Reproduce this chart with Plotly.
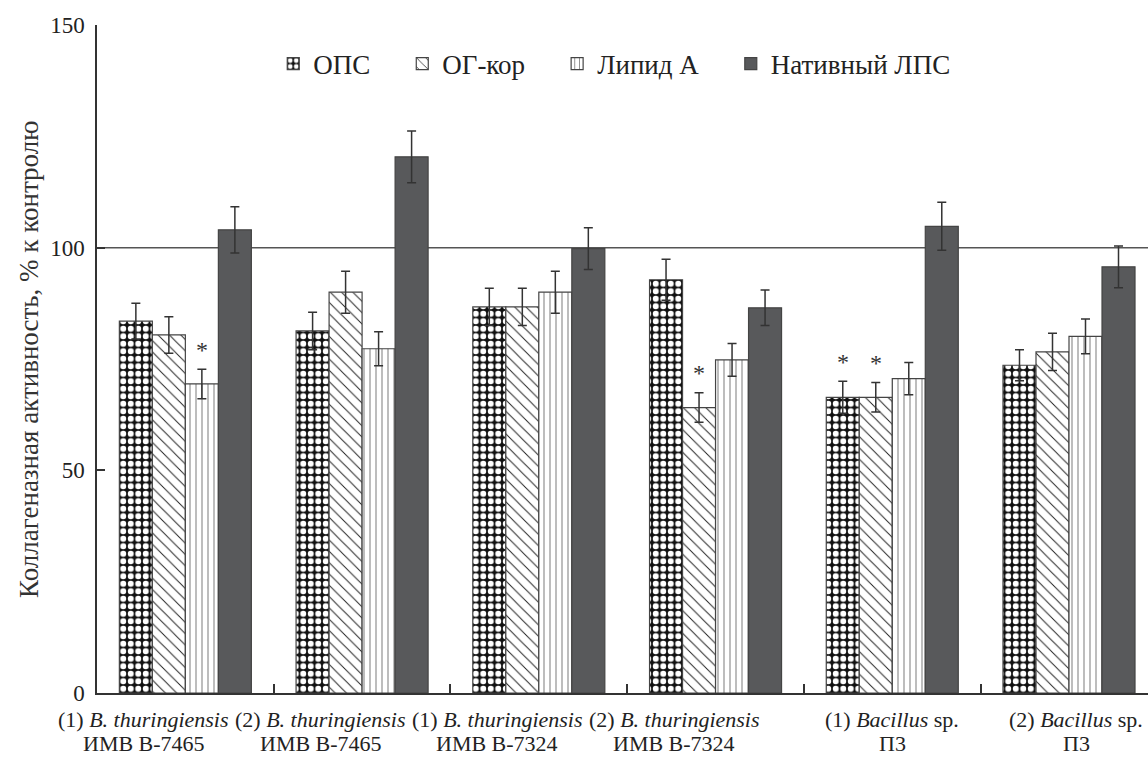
import plotly.graph_objects as go

# ---- data ----
label_line1 = ["(1) <i>B. thuringiensis</i>", "(2) <i>B. thuringiensis</i>",
               "(1) <i>B. thuringiensis</i>", "(2) <i>B. thuringiensis</i>",
               "(1) <i>Bacillus</i> sp.", "(2) <i>Bacillus</i> sp."]
label_line2 = ["ИМВ В-7465", "ИМВ В-7465", "ИМВ В-7324", "ИМВ В-7324", "П3", "П3"]
label_shift = [-0.235, -0.235, -0.235, -0.235, 0.0, 0.04]

series_names = ["ОПС", "ОГ-кор", "Липид А", "Нативный ЛПС"]
ops = [83.5, 81.3, 86.7, 92.8, 66.4, 73.6]
ops_err = [4.0, 4.2, 4.2, 4.6, 3.6, 3.5]
og = [80.4, 90.0, 86.7, 64.1, 66.4, 76.6]
og_err = [4.1, 4.7, 4.2, 3.3, 3.3, 4.2]
lip = [69.4, 77.3, 90.0, 74.8, 70.6, 80.1]
lip_err = [3.3, 3.8, 4.7, 3.7, 3.6, 3.9]
nat = [104.0, 120.4, 99.8, 86.5, 104.8, 95.7]
nat_err = [5.2, 5.8, 4.7, 4.0, 5.4, 4.7]
ops_sig = [0, 0, 0, 0, 1, 0]
og_sig = [0, 0, 0, 1, 1, 0]
lip_sig = [1, 0, 0, 0, 0, 0]
nat_sig = [0, 0, 0, 0, 0, 0]

yticks = [0, 50, 100, 150]
control_level = 100

# ---- style ----
FONT = "Liberation Serif"
BARGAP = 0.253
x = list(range(len(ops)))
NBSP = "\u00a0"

patterns = [
    dict(shape=".", fgcolor="white", bgcolor="#111111", size=7.5, solidity=0.5, fillmode="replace"),
    dict(shape="\\", fgcolor="#222222", bgcolor="white", size=8, solidity=0.12, fillmode="replace"),
    dict(shape="|", fgcolor="#555555", bgcolor="white", size=6, solidity=0.13, fillmode="replace"),
    None,
]
colors = ["#111111", "white", "white", "#58595b"]
values = [ops, og, lip, nat]
errors = [ops_err, og_err, lip_err, nat_err]
sigs = [ops_sig, og_sig, lip_sig, nat_sig]

fig = go.Figure()
for k in range(4):
    marker = dict(color=colors[k], line=dict(color="#444444", width=1.2))
    if patterns[k] is not None:
        marker["pattern"] = patterns[k]
    fig.add_trace(go.Bar(
        x=x, y=values[k], name=series_names[k] + NBSP * 4, marker=marker,
        error_y=dict(type="data", array=errors[k], visible=True,
                     color="#333333", thickness=1.5, width=4.5),
    ))

bw = (1 - BARGAP) / 4
annotations = []
# significance asterisks
for k in range(4):
    for g in range(len(x)):
        if sigs[k][g]:
            annotations.append(dict(
                x=g + (k - 1.5) * bw, y=values[k][g] + errors[k][g] + 1.0,
                xref="x", yref="y", text="*", showarrow=False,
                yanchor="bottom", font=dict(family=FONT, size=24, color="#333333")))
# category labels
for g in range(len(x)):
    annotations.append(dict(x=g + label_shift[g], y=-0.04, xref="x", yref="paper",
                            text=label_line1[g], showarrow=False, yanchor="middle",
                            font=dict(family=FONT, size=22, color="#222222")))
    annotations.append(dict(x=g + label_shift[g], y=-0.075, xref="x", yref="paper",
                            text=label_line2[g], showarrow=False, yanchor="middle",
                            font=dict(family=FONT, size=22, color="#222222")))
# y title
annotations.append(dict(x=-0.0647, y=0.4985, xref="paper", yref="paper",
                        text="Коллагеназная активность, % к контролю",
                        textangle=-90, showarrow=False, xanchor="center", yanchor="middle",
                        font=dict(family=FONT, size=27, color="#333333")))

fig.add_shape(type="line", xref="paper", x0=0, x1=1, yref="y",
              y0=control_level, y1=control_level,
              line=dict(color="#555555", width=1.5), layer="below")

fig.update_layout(
    width=1148, height=757,
    margin=dict(l=97, r=0, t=25, b=64),
    paper_bgcolor="white", plot_bgcolor="white",
    barmode="group", bargap=BARGAP, bargroupgap=0,
    font=dict(family=FONT, size=22, color="#222222"),
    legend=dict(orientation="h", x=0.505, xanchor="center", y=0.9416, yanchor="middle",
                font=dict(family=FONT, size=27, color="#222222"),
                bgcolor="rgba(0,0,0,0)", itemwidth=30),
    annotations=annotations,
    xaxis=dict(range=[-0.5, 5.447], tickvals=[g + 0.5 for g in x[:-1]],
               showticklabels=False, ticks="inside", ticklen=9, tickcolor="#333333",
               tickwidth=1.5, showline=True, linecolor="#333333", linewidth=1.5,
               showgrid=False, zeroline=False),
    yaxis=dict(range=[0, 150], tickvals=yticks, ticks="inside", ticklen=8,
               tickcolor="#333333", tickwidth=1.5, showline=True, linecolor="#333333",
               linewidth=1.5, showgrid=False, zeroline=False,
               tickfont=dict(family=FONT, size=23, color="#222222"),
               ticklabelstandoff=6),
)

fig.write_html("out.html")
